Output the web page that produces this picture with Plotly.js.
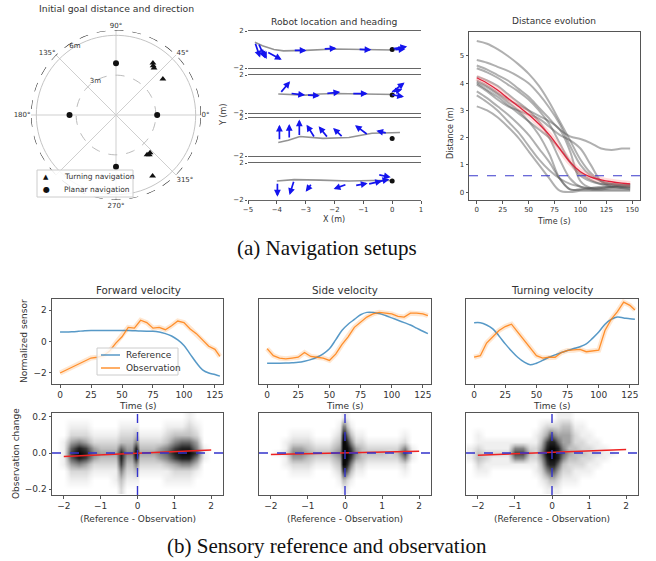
<!DOCTYPE html>
<html><head><meta charset="utf-8">
<script src="https://cdn.plot.ly/plotly-3.0.1.min.js"></script>
<style>html,body{margin:0;padding:0;background:#fff}#chart{width:656px;height:561px}</style>
</head><body><div id="chart"></div>
<script>
// ================= DATA =================
// (a) polar: initial goal distance (m) and direction (deg)
const turnR = [4.8, 4.55, 4.65, 4.45, 3.8, 3.83, 3.9, 5.35];
const turnTheta = [54.6, 51, 53, 37.5, 308, 312, 310, 301];
const planarR = [3.9, 3.1, 3.5, 3.9];
const planarTheta = [90, 0, 180, 270];
const polarRadialTicks = [3, 6];
const polarAngleTicks = [0, 45, 90, 135, 180, 225, 270, 315];
const polarAngleHidden = [225]; // label covered by the legend box in the reference
const polarLegend = ['Turning navigation', 'Planar navigation'];

// (a) robot location and heading: 4 runs
const traj1X = [-4.76, -4.5, -4.1, -3.77, -3, -2, -1, 0, 0.3];
const traj1Y = [0.79, 0.4, 0.0, -0.15, -0.1, 0.05, 0.0, -0.05, 0.1];
const traj2X = [-3.95, -3.5, -3, -2.5, -2, -1, 0, 0.1];
const traj2Y = [0.0, -0.05, -0.12, 0.0, 0.05, 0.0, 0.02, -0.05];
const traj3X = [-3.95, -3.6, -3.2, -2.4, -1.5, -0.7, 0, 0.27];
const traj3Y = [-0.57, -0.35, 0.05, -0.14, -0.05, 0.4, 0.45, 0.47];
const traj4X = [-4.0, -3.4, -2.5, -1.5, -0.7, 0];
const traj4Y = [0.05, 0.2, 0.15, 0.05, 0.1, 0.1];
const goal1 = [0, 0.0], goal2 = [0, -0.1], goal3 = [0, -0.15], goal4 = [0, 0.05];
// heading arrows: tail position and direction
const arr1X = [-4.76, -4.64, -4.53, -4.35, -3.43, -2.39, -1.18, 0.0, 0.06];
const arr1Y = [0.79, 0.68, 0.14, -0.23, -0.1, 0.06, 0.03, 0.06, -0.04];
const arr1U = [0.18, 0.23, 0.18, 0.52, 0.46, 0.46, 0.46, 0.52, 0.40];
const arr1V = [-1.66, -1.62, -1.16, -0.89, 0.0, 0.08, -0.07, 0.26, 0.10];
const arr2X = [-3.89, -3.54, -2.97, -2.3, -1.4, -0.05, -0.05, 0.0];
const arr2Y = [0.07, 0.07, -0.11, 0.05, 0.05, 0.1, -0.05, 0.2];
const arr2U = [0.35, 0.52, 0.46, 0.5, 0.55, 0.48, 0.46, 0.35];
const arr2V = [1.26, -0.18, -0.07, 0.15, 0.0, 1.1, -0.25, 0.3];
const arr3X = [-3.91, -3.57, -3.22, -2.68, -2.22, -1.7, -0.83, -0.17];
const arr3Y = [-0.4, -0.2, 0.04, -0.1, -0.12, -0.05, 0.2, 0.4];
const arr3U = [0.0, 0.0, 0.0, -0.29, -0.33, -0.35, -0.46, -0.38];
const arr3V = [1.7, 1.57, 1.8, 1.4, 1.24, 1.0, 1.05, 0.25];
const arr4X = [-3.98, -3.4, -2.78, -1.57, -1.3, -0.85, -0.6, -0.5];
const arr4Y = [-0.09, 0.13, -0.2, -0.3, -0.45, -0.3, -0.1, 0.75];
const arr4U = [0.0, -0.16, -0.22, -0.46, 0.45, 0.5, 0.5, 0.45];
const arr4V = [-1.55, -1.59, -0.9, -0.51, 0.25, 0.35, 0.35, -0.3];
const robotXTicks = [-5, -4, -3, -2, -1, 0, 1];

// (a) distance evolution
const distT = [0, 10, 20, 30, 40, 50, 60, 70, 80, 90, 100, 110, 120, 130, 140, 148];
const distRuns = [
  [5.55, 5.45, 5.25, 5.0, 4.7, 4.35, 3.9, 3.3, 2.6, 1.9, 1.2, 0.7, 0.4, 0.3, 0.25, 0.25],
  [4.85, 4.75, 4.6, 4.45, 4.25, 4.0, 3.6, 3.1, 2.5, 1.7, 1.0, 0.6, 0.4, 0.3, 0.3, 0.3],
  [4.65, 4.5, 4.3, 4.1, 3.8, 3.5, 3.1, 2.7, 2.3, 2.05, 1.95, 1.8, 1.6, 1.55, 1.6, 1.6],
  [4.55, 4.4, 4.2, 3.95, 3.7, 3.4, 3.0, 2.5, 1.8, 1.1, 0.6, 0.4, 0.3, 0.25, 0.2, 0.2],
  [4.25, 4.1, 3.9, 3.6, 3.3, 3.0, 2.6, 2.0, 1.2, 0.5, 0.2, 0.15, 0.15, 0.2, 0.2, 0.2],
  [4.1, 3.9, 3.65, 3.4, 3.2, 3.0, 2.8, 2.6, 2.3, 1.5, 0.4, 0.15, 0.15, 0.2, 0.2, 0.2],
  [4.05, 3.85, 3.6, 3.3, 3.0, 2.6, 2.1, 1.4, 0.5, 0.1, 0.1, 0.15, 0.2, 0.2, 0.25, 0.25],
  [4.0, 3.75, 3.5, 3.2, 2.9, 2.6, 2.3, 2.0, 1.6, 1.1, 0.7, 0.45, 0.3, 0.3, 0.25, 0.25],
  [3.95, 3.7, 3.4, 3.15, 3.0, 2.85, 2.7, 2.4, 2.1, 1.9, 1.6, 1.0, 0.4, 0.2, 0.15, 0.15],
  [3.7, 3.45, 3.15, 2.85, 2.5, 2.1, 1.6, 1.1, 0.5, 0.1, 0.1, 0.1, 0.1, 0.15, 0.15, 0.1],
  [3.55, 3.3, 3.0, 2.6, 2.2, 1.7, 1.2, 0.8, 0.5, 0.3, 0.2, 0.1, 0.1, 0.1, 0.1, 0.1],
  [3.15, 3.0, 2.75, 2.4, 2.0, 1.5, 1.0, 0.5, 0.05, 0.0, 0.05, 0.05, 0.05, 0.05, 0.05, 0.05]
];
const distMean = [4.2, 4.0, 3.75, 3.45, 3.15, 2.85, 2.5, 2.1, 1.6, 1.1, 0.75, 0.55, 0.45, 0.38, 0.33, 0.3];
const distThreshold = 0.6;
const distXTicks = [0, 25, 50, 75, 100, 125, 150];
const distYTicks = [0, 1, 2, 3, 4, 5];

// (b) sensory reference and observation
const sensT = [0,5,10,15,20,25,30,35,40,45,50,55,60,65,70,75,80,85,90,95,100,105,110,115,120,125,129];
const fwdRef = [0.6,0.6,0.62,0.65,0.68,0.7,0.7,0.7,0.7,0.7,0.7,0.7,0.68,0.66,0.65,0.65,0.6,0.5,0.35,0.1,-0.25,-0.8,-1.35,-1.8,-2.0,-2.1,-2.2];
const fwdObs = [-2.0,-1.8,-1.6,-1.45,-1.2,-1.05,-1.0,-0.9,-0.6,-0.1,0.3,0.9,0.85,1.35,1.2,0.85,0.9,0.75,1.0,1.3,1.2,0.8,0.5,0.1,-0.3,-0.5,-0.95];
const sideRef = [-1.38,-1.38,-1.38,-1.37,-1.35,-1.32,-1.25,-1.15,-1.0,-0.78,-0.46,0.1,0.7,1.1,1.4,1.7,1.85,1.85,1.78,1.65,1.5,1.35,1.2,1.05,0.85,0.65,0.5];
const sideObs = [-0.45,-0.9,-1.05,-1.1,-1.05,-1.0,-0.7,-0.95,-1.0,-1.05,-1.2,-0.8,-0.2,0.3,0.9,1.25,1.55,1.75,1.85,1.8,1.75,1.6,1.55,1.8,1.8,1.75,1.65];
const turnRef = [1.19,1.19,1.05,0.8,0.35,-0.15,-0.6,-1.0,-1.3,-1.48,-1.38,-1.2,-1.0,-0.85,-0.7,-0.57,-0.45,-0.33,-0.15,0.2,0.6,1.1,1.4,1.55,1.5,1.45,1.42];
const turnObs = [-1.0,-0.9,-0.1,0.3,0.7,0.95,1.1,0.6,0.1,-0.4,-0.9,-1.05,-1.0,-1.0,-0.7,-0.57,-0.55,-0.5,-0.65,-0.6,-0.55,0.7,1.4,1.9,2.5,2.3,2.0];
const sensXTicks = [0, 25, 50, 75, 100, 125];
const sensYTicks = [-2, 0, 2];
const sensLegend = ['Reference', 'Observation'];

// density of (reference - observation) vs observation change, read as a coarse grid (0 = none, 9 = darkest)
const densX = [-2.2,-2.0,-1.8,-1.6,-1.4,-1.2,-1.0,-0.8,-0.6,-0.45,-0.3,-0.15,-0.05,0,0.05,0.15,0.3,0.45,0.6,0.8,1.0,1.2,1.4,1.6,1.8,2.0,2.2];
const densY = [-0.2,-0.15,-0.1,-0.06,-0.03,0,0.03,0.06,0.1,0.15,0.2];
const fwdDensity = [
  [0,0,0,0,0,0,0,0,0,2,0,0,0,0,0,0,0,0,0,0,0,0,0,0,0,0,0],
  [0,0,1,1,1,0,0,0,1,3,1,1,1,1,0,0,0,0,0,1,1,1,1,0,0,0,0],
  [0,0,2,2,2,1,1,1,1,5,2,2,3,2,1,1,1,1,1,1,2,2,2,1,0,0,0],
  [0,1,4,5,4,2,2,2,2,7,3,3,5,4,2,2,2,2,2,3,4,5,5,3,0,0,0],
  [0,1,6,8,7,4,3,3,3,8,4,4,8,6,3,3,3,3,4,5,7,8,8,5,1,0,0],
  [0,1,7,9,8,5,4,4,4,8,5,5,9,8,4,4,4,4,5,6,8,9,9,7,1,0,0],
  [0,1,6,8,7,4,3,3,3,6,4,4,8,6,3,3,3,3,4,5,7,8,8,5,1,0,0],
  [0,1,4,5,4,2,2,2,2,3,3,3,5,4,2,2,2,2,2,3,5,6,6,4,0,0,0],
  [0,0,2,2,2,1,1,1,1,2,2,2,3,2,1,1,1,1,1,2,3,3,3,2,0,0,0],
  [0,0,1,1,1,0,0,0,0,1,1,1,1,1,0,0,0,0,0,1,1,1,2,1,0,0,0],
  [0,0,0,0,0,0,0,0,0,0,0,0,0,0,0,0,0,0,0,0,0,0,1,0,0,0,0]
];
const sideDensity = [
  [0,0,0,0,0,0,0,0,0,0,0,0,1,1,1,0,0,0,0,0,0,0,0,0,0,0,0],
  [0,0,0,0,0,0,0,0,0,0,0,1,3,3,2,1,0,0,0,0,0,0,0,0,0,0,0],
  [0,0,0,0,1,1,1,0,0,0,1,2,7,7,6,3,1,1,0,0,0,0,0,1,0,0,0],
  [0,0,0,1,2,2,2,1,1,1,2,3,9,9,8,5,2,2,1,1,1,1,1,2,0,0,0],
  [0,0,0,1,4,4,3,2,2,2,3,4,9,9,9,7,4,3,2,2,2,2,2,5,1,0,0],
  [0,0,1,2,5,5,4,3,3,3,4,5,9,9,9,8,5,3,3,3,3,2,3,7,1,0,0],
  [0,0,0,1,4,4,3,2,2,2,3,4,9,9,9,7,4,3,2,2,2,2,2,5,1,0,0],
  [0,0,0,1,2,2,2,1,1,1,2,3,9,9,8,5,2,2,1,1,1,1,1,2,0,0,0],
  [0,0,0,0,1,1,1,0,0,0,1,2,8,8,6,3,1,1,0,0,0,0,0,1,0,0,0],
  [0,0,0,0,0,0,0,0,0,0,0,1,5,5,3,1,0,0,0,0,0,0,0,0,0,0,0],
  [0,0,0,0,0,0,0,0,0,0,0,0,1,1,1,0,0,0,0,0,0,0,0,0,0,0,0]
];
const turnDensity = [
  [0,0,0,0,0,0,0,0,0,0,0,1,1,1,1,1,0,0,0,0,0,0,0,0,0,0,0],
  [0,0,0,0,0,0,0,0,0,0,1,2,3,3,3,2,1,1,1,0,0,0,0,0,0,0,0],
  [0,1,1,0,0,0,0,0,0,1,2,5,6,6,6,4,2,2,1,1,1,0,0,0,0,0,0],
  [0,2,1,1,1,1,1,1,1,1,3,7,8,8,8,6,3,2,2,2,1,1,0,0,0,0,0],
  [1,3,2,1,1,1,5,5,2,2,4,8,9,9,9,8,5,3,3,2,2,1,1,0,0,0,0],
  [1,3,2,2,2,2,7,7,3,2,5,9,9,9,9,8,6,4,3,3,2,2,1,1,0,0,0],
  [1,2,1,1,1,1,5,5,2,2,4,8,9,9,9,8,5,3,3,2,2,1,1,0,0,0,0],
  [0,1,1,1,1,1,1,1,1,1,3,7,8,8,8,6,4,4,2,2,1,1,0,0,0,0,0],
  [0,1,0,0,0,0,0,0,0,1,2,4,6,6,5,4,4,4,2,1,1,0,0,0,0,0,0],
  [0,0,0,0,0,0,0,0,0,0,1,2,2,2,2,2,3,3,1,1,0,0,0,0,0,0,0],
  [0,0,0,0,0,0,0,0,0,0,0,0,0,0,0,1,1,1,0,0,0,0,0,0,0,0,0]
];
const fitX = [-2, 2];
const fwdFitY = [-0.02, 0.017];
const sideFitY = [-0.008, 0.01];
const turnFitY = [-0.012, 0.02];
const densXTicks = [-2, -1, 0, 1, 2];
const densYTicks = [-0.2, 0, 0.2];
const densYTickText = ['\u22120.2', '0.0', '0.2'];

// ================= LAYOUT HELPERS =================
const W = 656, H = 561;
const px = v => v / W, py = v => 1 - v / H;
const dx = (a, b) => [px(a), px(b)];
const dy = (top, bot) => [py(bot), py(top)];
const FONT = 'DejaVu Sans';
const tfS = {family: FONT, size: 7, color: '#333'};
const tfL = {family: FONT, size: 9, color: '#333'};
function ax(o) {
  return Object.assign({showline: true, mirror: true, linecolor: '#555', linewidth: 1,
    ticks: 'outside', ticklen: 2.5, tickcolor: '#555', showgrid: false, zeroline: false,
    fixedrange: true}, o);
}
function minus(v) { return String(v).replace('-', '\u2212'); }

const traces = [];
const annotations = [];
const shapes = [];

// ---- polar ----
const ringTheta = [];
for (let a = 0; a <= 360; a += 4) ringTheta.push(a);
const RMAX = 6.4;
traces.push({type: 'scatterpolar', r: ringTheta.map(() => polarRadialTicks[0]), theta: ringTheta, mode: 'lines',
  line: {color: '#bbb', width: 1, dash: 'dash'}, showlegend: false, hoverinfo: 'skip'});
traces.push({type: 'scatterpolar', r: ringTheta.map(() => polarRadialTicks[1]), theta: ringTheta, mode: 'lines',
  line: {color: '#c4c4c4', width: 1}, showlegend: false, hoverinfo: 'skip'});
traces.push({type: 'scatterpolar', r: ringTheta.map(() => RMAX), theta: ringTheta, mode: 'lines',
  line: {color: '#222', width: 1.1, dash: 'dash'}, showlegend: false, hoverinfo: 'skip'});
traces.push({type: 'scatterpolar', r: polarRadialTicks, theta: polarRadialTicks.map(() => 121), mode: 'text',
  text: polarRadialTicks.map(v => v + 'm'), textfont: {family: FONT, size: 7, color: '#333'},
  showlegend: false, hoverinfo: 'skip'});
traces.push({type: 'scatterpolar', r: turnR, theta: turnTheta, mode: 'markers', name: polarLegend[0],
  marker: {symbol: 'triangle-up', size: 6, color: '#111'}, showlegend: false});
traces.push({type: 'scatterpolar', r: planarR, theta: planarTheta, mode: 'markers', name: polarLegend[1],
  marker: {symbol: 'circle', size: 6, color: '#111'}, showlegend: false});

// ---- robot runs ----
const runs = [
  [traj1X, traj1Y, goal1, arr1X, arr1Y, arr1U, arr1V],
  [traj2X, traj2Y, goal2, arr2X, arr2Y, arr2U, arr2V],
  [traj3X, traj3Y, goal3, arr3X, arr3Y, arr3U, arr3V],
  [traj4X, traj4Y, goal4, arr4X, arr4Y, arr4U, arr4V]
];
const robotRows = [[31, 68], [75, 113], [118, 156], [163, 200]];
const layout = {
  width: W, height: H, margin: {l: 0, r: 0, t: 0, b: 0}, paper_bgcolor: '#fff', plot_bgcolor: 'rgba(0,0,0,0)',
  font: {family: FONT, color: '#333'},
  polar: {
    domain: {x: dx(31, 201), y: dy(30, 200)}, bgcolor: 'rgba(0,0,0,0)',
    radialaxis: {range: [0, RMAX], tickvals: polarRadialTicks, showticklabels: false,
      angle: 122, showline: false, showgrid: false, ticks: ''},
    angularaxis: {tickvals: polarAngleTicks,
      ticktext: polarAngleTicks.map(v => polarAngleHidden.includes(v) ? '' : v + '\u00b0'), rotation: 0,
      direction: 'counterclockwise', showline: false, gridcolor: '#cfcfcf', gridwidth: 1, ticks: '', tickfont: tfS}
  },
  showlegend: false,
  annotations: annotations, shapes: shapes
};

runs.forEach((run, i) => {
  const n = i + 1;
  const xa = 'x' + (n === 1 ? '' : n), ya = 'y' + (n === 1 ? '' : n);
  const [tx, ty, g, ax0, ay0, au, av] = run;
  traces.push({type: 'scatter', x: tx, y: ty, xaxis: xa, yaxis: ya, mode: 'lines',
    line: {color: 'rgba(120,120,120,0.8)', width: 1.6}, hoverinfo: 'skip'});
  traces.push({type: 'scatter', x: [g[0]], y: [g[1]], xaxis: xa, yaxis: ya, mode: 'markers',
    marker: {color: '#111', size: 5}, hoverinfo: 'skip'});
  for (let k = 0; k < ax0.length; k++) {
    annotations.push({xref: xa, yref: ya, axref: xa, ayref: ya, x: ax0[k] + au[k], y: ay0[k] + av[k],
      ax: ax0[k], ay: ay0[k], text: '', showarrow: true, arrowhead: 2, arrowsize: 0.8, arrowwidth: 1.7,
      arrowcolor: '#1414ee', standoff: 0, startstandoff: 0});
  }
  const last = n === 4;
  layout['xaxis' + (n === 1 ? '' : n)] = ax({domain: dx(248, 421), range: [-5, 1], anchor: ya,
    tickvals: robotXTicks, ticktext: robotXTicks.map(minus), showticklabels: last, ticks: last ? 'outside' : '',
    tickfont: tfS, linecolor: '#666'});
  layout['yaxis' + (n === 1 ? '' : n)] = {domain: dy(robotRows[i][0], robotRows[i][1]), range: [-2, 2],
    anchor: xa, tickvals: [-2, 2], ticktext: ['\u22122', '2'], showline: false, ticks: 'outside',
    ticklen: 2, tickcolor: '#555', tickfont: tfS, showgrid: false, zeroline: false, fixedrange: true};
});

// ---- distance evolution ----
distRuns.forEach(r => traces.push({type: 'scatter', x: distT, y: r, xaxis: 'x5', yaxis: 'y5', mode: 'lines',
  line: {color: 'rgba(80,80,80,0.45)', width: 2, shape: 'spline'}, hoverinfo: 'skip'}));
traces.push({type: 'scatter', x: distT, y: distMean, xaxis: 'x5', yaxis: 'y5', mode: 'lines',
  line: {color: 'rgba(255,140,140,0.3)', width: 6, shape: 'spline'}, hoverinfo: 'skip'});
traces.push({type: 'scatter', x: distT, y: distMean, xaxis: 'x5', yaxis: 'y5', mode: 'lines',
  line: {color: '#e0203a', width: 1.3, shape: 'spline'}, hoverinfo: 'skip'});
shapes.push({type: 'line', xref: 'x5 domain', x0: 0, x1: 1, yref: 'y5', y0: distThreshold, y1: distThreshold,
  line: {color: '#3a3acc', width: 1.2, dash: 'dash'}});
layout.xaxis5 = ax({domain: dx(469, 640), range: [-7.5, 157.5], anchor: 'y5', tickvals: distXTicks, tickfont: tfS});
layout.yaxis5 = ax({domain: dy(32, 200), range: [-0.29, 5.88], anchor: 'x5', tickvals: distYTicks, tickfont: tfS});

// ---- sensory plots ----
const cols = [[52, 223], [259, 431], [466, 638]];
const sens = [[fwdRef, fwdObs, fwdDensity, fwdFitY], [sideRef, sideObs, sideDensity, sideFitY], [turnRef, turnObs, turnDensity, turnFitY]];
const densScale = [[0, '#ffffff'], [0.12, '#eeeeee'], [0.35, '#bdbdbd'], [0.65, '#6a6a6a'], [0.85, '#2a2a2a'], [1, '#080808']];
const REF_COLOR = 'rgba(31,119,180,0.75)', OBS_COLOR = 'rgba(255,127,14,0.85)';
sens.forEach((s, i) => {
  const tn = 6 + i, bn = 9 + i;
  const tx = 'x' + tn, ty = 'y' + tn, bx = 'x' + bn, by = 'y' + bn;
  const first = i === 0;
  traces.push({type: 'scatter', x: sensT, y: s[1], xaxis: tx, yaxis: ty, mode: 'lines',
    line: {color: 'rgba(255,170,90,0.28)', width: 5}, hoverinfo: 'skip'});
  traces.push({type: 'scatter', x: sensT, y: s[0], xaxis: tx, yaxis: ty, mode: 'lines', name: sensLegend[0],
    line: {color: REF_COLOR, width: 1.5, shape: 'spline'}});
  traces.push({type: 'scatter', x: sensT, y: s[1], xaxis: tx, yaxis: ty, mode: 'lines', name: sensLegend[1],
    line: {color: OBS_COLOR, width: 1.3}});
  layout['xaxis' + tn] = ax({domain: dx(cols[i][0], cols[i][1]), range: [-6.5, 131.5], anchor: ty,
    tickvals: sensXTicks, tickfont: tfL});
  layout['yaxis' + tn] = ax({domain: dy(299, 384), range: [-2.7, 2.7], anchor: tx, tickvals: sensYTicks,
    ticktext: sensYTicks.map(minus), showticklabels: first, ticks: first ? 'outside' : '', tickfont: tfL});

  traces.push({type: 'heatmap', x: densX, y: densY, z: s[2], xaxis: bx, yaxis: by, zmin: 0, zmax: 9,
    colorscale: densScale, zsmooth: 'best', showscale: false, hoverinfo: 'skip'});
  traces.push({type: 'scatter', x: fitX, y: s[3], xaxis: bx, yaxis: by, mode: 'lines',
    line: {color: '#ee2222', width: 1.5}, hoverinfo: 'skip'});
  shapes.push({type: 'line', xref: bx + ' domain', x0: 0, x1: 1, yref: by, y0: 0, y1: 0,
    line: {color: '#3333cc', width: 1.4, dash: 'dash'}});
  shapes.push({type: 'line', xref: bx, x0: 0, x1: 0, yref: by + ' domain', y0: 0, y1: 1,
    line: {color: '#3333cc', width: 1.4, dash: 'dash'}});
  layout['xaxis' + bn] = ax({domain: dx(cols[i][0], cols[i][1]), range: [-2.32, 2.32], anchor: by,
    tickvals: densXTicks, ticktext: densXTicks.map(minus), tickfont: tfL});
  layout['yaxis' + bn] = ax({domain: dy(413, 495), range: [-0.233, 0.222], anchor: bx, tickvals: densYTicks,
    ticktext: densYTickText, showticklabels: first, ticks: first ? 'outside' : '', tickfont: tfL});
});

// ---- text ----
function txt(t, x, y, size, o) {
  annotations.push(Object.assign({text: t, x: px(x), y: py(y), xref: 'paper', yref: 'paper', showarrow: false,
    xanchor: 'center', yanchor: 'middle', font: {family: FONT, size: size, color: '#333'}}, o || {}));
}
txt('Initial goal distance and direction', 116, 9, 9.3);
txt('Robot location and heading', 334, 21, 9.2);
txt('Distance evolution', 554, 21, 9);
txt('Y (m)', 224, 115, 8, {textangle: -90});
txt('X (m)', 334, 220, 8);
txt('Time (s)', 554, 221, 8);
txt('Distance (m)', 450, 133, 8, {textangle: -90});
txt('Forward velocity', 138, 290, 10.3);
txt('Side velocity', 345, 290, 10.3);
txt('Turning velocity', 552, 290, 10.3);
[138, 345, 552].forEach(x => { txt('Time (s)', x, 406, 9); txt('(Reference - Observation)', x, 519, 9); });
txt('Normalized sensor', 24, 341, 9, {textangle: -90});
txt('Observation change', 16, 454, 9, {textangle: -90});
txt('(a) Navigation setups', 327, 248, 21, {font: {family: 'Liberation Serif', size: 21, color: '#111'}});
txt('(b) Sensory reference and observation', 327, 546, 21, {font: {family: 'Liberation Serif', size: 21, color: '#111'}});

// ---- legends (drawn as boxes with sample marks) ----
shapes.push({type: 'rect', xref: 'paper', yref: 'paper', x0: px(37), x1: px(133), y0: py(197), y1: py(170),
  fillcolor: 'rgba(255,255,255,0.85)', line: {color: '#cccccc', width: 1}, layer: 'above'});
txt('\u25b2', 46, 177, 7, {font: {family: FONT, size: 7, color: '#111'}});
txt('\u25cf', 46, 189, 8, {font: {family: FONT, size: 8, color: '#111'}});
txt(polarLegend[0], 62, 177, 7.5, {xanchor: 'left'});
txt(polarLegend[1], 62, 189, 7.5, {xanchor: 'left'});

shapes.push({type: 'rect', xref: 'paper', yref: 'paper', x0: px(97), x1: px(178), y0: py(375), y1: py(348),
  fillcolor: 'rgba(255,255,255,0.8)', line: {color: '#cccccc', width: 1}, layer: 'above'});
shapes.push({type: 'line', xref: 'paper', yref: 'paper', x0: px(101), x1: px(120), y0: py(355), y1: py(355),
  line: {color: REF_COLOR, width: 1.5}, layer: 'above'});
shapes.push({type: 'line', xref: 'paper', yref: 'paper', x0: px(101), x1: px(120), y0: py(368), y1: py(368),
  line: {color: OBS_COLOR, width: 1.5}, layer: 'above'});
txt(sensLegend[0], 124, 355, 9, {xanchor: 'left'});
txt(sensLegend[1], 124, 368, 9, {xanchor: 'left'});

Plotly.newPlot('chart', traces, layout, {staticPlot: true, displayModeBar: false});
</script>
</body></html>
